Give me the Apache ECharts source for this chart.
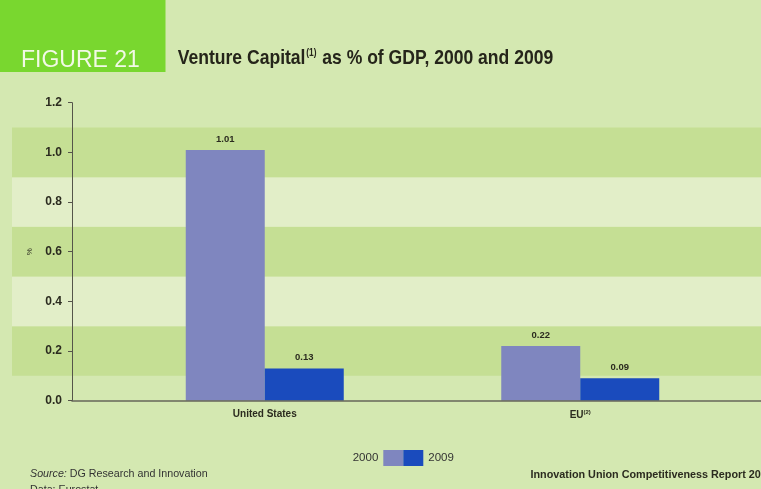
<!DOCTYPE html>
<html><head><meta charset="utf-8">
<script src="https://cdn.jsdelivr.net/npm/echarts@6/dist/echarts.min.js"></script>
<style>html,body{margin:0;padding:0;background:#d4e8b1;}#c{width:761px;height:489px;}</style>
</head><body><div id="c"></div>
<script>
const categories = ['United States', 'EU'];
const values2000 = [1.01, 0.22];
const values2009 = [0.13, 0.09];
const yTicks = [0, 0.2, 0.4, 0.6, 0.8, 1.0, 1.2];
const bands = [[0.1, 0.3, 'dark'], [0.3, 0.5, 'light'], [0.5, 0.7, 'dark'], [0.7, 0.9, 'light'], [0.9, 1.1, 'dark']];

const BG = '#d4e8b1', DARK = '#c5df94', LIGHT = '#e2eec8';
const TXT = '#2b2b1f';
const SANS = '"Liberation Sans", Arial, sans-serif';
const gridTop = 102.7, gridBottom = 489 - 400.7;

// measure title to squeeze it into a condensed look
const TITLE_A = 'Venture Capital', TITLE_S = '(1)', TITLE_B = ' as % of GDP, 2000 and 2009';
const mctx = document.createElement('canvas').getContext('2d');
mctx.font = 'bold 21px "Liberation Sans", Arial, sans-serif';
let wTitle = mctx.measureText(TITLE_A).width + mctx.measureText(TITLE_B).width;
mctx.font = 'bold 10px "Liberation Sans", Arial, sans-serif';
wTitle += mctx.measureText(TITLE_S).width + 2;
const titleScale = 375.5 / wTitle;

const chart = echarts.init(document.getElementById('c'), null, {renderer: 'canvas'});
chart.setOption({
  backgroundColor: BG,
  animation: false,
  title: [
    {text: 'FIGURE 21', left: 16, top: 44, textStyle: {color: '#f2f9e6', fontFamily: SANS, fontWeight: 'normal', fontSize: 23}}
  ],
  graphic: [
    {type: 'rect', shape: {x: 0, y: 0, width: 165.5, height: 72}, style: {fill: '#79d72f'}, z: -1},
    {type: 'text', x: 177.7, y: 47.5, scaleX: titleScale, z: 10,
      style: {text: '{a|' + TITLE_A + '}{s|' + TITLE_S + '}{a|' + TITLE_B + '}', verticalAlign: 'top',
        rich: {
          a: {fontFamily: SANS, fontWeight: 'bold', fontSize: 21, fill: '#25251a'},
          s: {fontFamily: SANS, fontWeight: 'bold', fontSize: 10, fill: '#25251a', padding: [0, 1, 9, 1]}
        }}},
    {type: 'text', left: 30, top: 469, style: {text: '{i|Source:} DG Research and Innovation', fontFamily: SANS, fontSize: 10.7, fill: '#333',
      rich: {i: {fontStyle: 'italic', fontFamily: SANS, fontSize: 10.7, fill: '#333'}}}},
    {type: 'text', left: 30, top: 485, style: {text: 'Data: Eurostat', fontFamily: SANS, fontSize: 10.7, fill: '#333'}},
    {type: 'text', left: 530.5, top: 469.5, style: {text: 'Innovation Union Competitiveness Report 2011', fontFamily: SANS, fontWeight: 'bold', fontSize: 10.8, fill: '#2b2b1f'}}
  ],
  legend: [
    {data: ['2000'], right: 761 - 403.3, top: 450, padding: 0, itemWidth: 20, itemHeight: 16, align: 'right', itemGap: 0,
      textStyle: {fontFamily: SANS, fontSize: 11.5, color: '#333'}, icon: 'rect', selectedMode: false},
    {data: ['2009'], left: 403.3, top: 450, padding: 0, itemWidth: 20, itemHeight: 16, align: 'left', itemGap: 0,
      textStyle: {fontFamily: SANS, fontSize: 11.5, color: '#333'}, icon: 'rect', selectedMode: false}
  ],
  grid: [
    {left: 12, right: 0, top: gridTop, bottom: gridBottom},
    {left: 72, right: 0, top: gridTop, bottom: gridBottom},
    {left: 107, right: 23, top: gridTop, bottom: gridBottom}
  ],
  xAxis: [
    {gridIndex: 0, type: 'category', data: categories, show: false},
    {gridIndex: 1, type: 'category', data: categories, z: 10,
      axisLine: {lineStyle: {color: '#66665a', width: 1.6}}, axisTick: {show: false}, axisLabel: {show: false}},
    {gridIndex: 2, type: 'category', data: categories, axisLine: {show: false}, axisTick: {show: false},
      axisLabel: {margin: 9, fontFamily: SANS, fontWeight: 'bold', fontSize: 10, color: TXT,
        formatter: v => v === 'EU' ? '{b|EU}{s|(2)}' : '{b|' + v + '}',
        rich: {b: {fontFamily: SANS, fontWeight: 'bold', fontSize: 10, color: TXT},
               s: {fontFamily: SANS, fontWeight: 'bold', fontSize: 6, color: TXT, verticalAlign: 'top', padding: [0, 0, 5, 0]}}}}
  ],
  yAxis: [
    {gridIndex: 0, type: 'value', min: 0, max: 1.2, show: false},
    {gridIndex: 1, type: 'value', min: 0, max: 1.2, interval: 0.2, z: 10,
      name: '%', nameLocation: 'middle', nameGap: 38, nameRotate: 90,
      nameTextStyle: {fontFamily: SANS, fontSize: 8, color: TXT},
      axisLine: {show: true, lineStyle: {color: '#55554a', width: 1}},
      axisTick: {show: true, length: 4, lineStyle: {color: '#55554a'}},
      splitLine: {show: false},
      axisLabel: {margin: 10, fontFamily: SANS, fontWeight: 'bold', fontSize: 12, color: TXT,
        formatter: v => yTicks.includes(Math.round(v * 10) / 10) ? v.toFixed(1) : ''}},
    {gridIndex: 2, type: 'value', min: 0, max: 1.2, show: false}
  ],
  series: [
    {type: 'line', xAxisIndex: 0, yAxisIndex: 0, data: [], z: 0, silent: true,
      markArea: {silent: true, itemStyle: {opacity: 1},
        data: bands.map(b => [{yAxis: b[0], itemStyle: {color: b[2] === 'dark' ? DARK : LIGHT}}, {yAxis: b[1]}])}},
    {name: '2000', type: 'bar', xAxisIndex: 2, yAxisIndex: 2, data: values2000, barWidth: 79, barGap: '0%', z: 3,
      itemStyle: {color: '#7f86bf'},
      label: {show: true, position: 'top', distance: 6, fontFamily: SANS, fontWeight: 'bold', fontSize: 9.5, color: TXT, formatter: p => p.value.toFixed(2)}},
    {name: '2009', type: 'bar', xAxisIndex: 2, yAxisIndex: 2, data: values2009, barWidth: 79, barGap: '0%', z: 3,
      itemStyle: {color: '#1a4bbd'},
      label: {show: true, position: 'top', distance: 6, fontFamily: SANS, fontWeight: 'bold', fontSize: 9.5, color: TXT, formatter: p => p.value.toFixed(2)}}
  ]
});
</script></body></html>
